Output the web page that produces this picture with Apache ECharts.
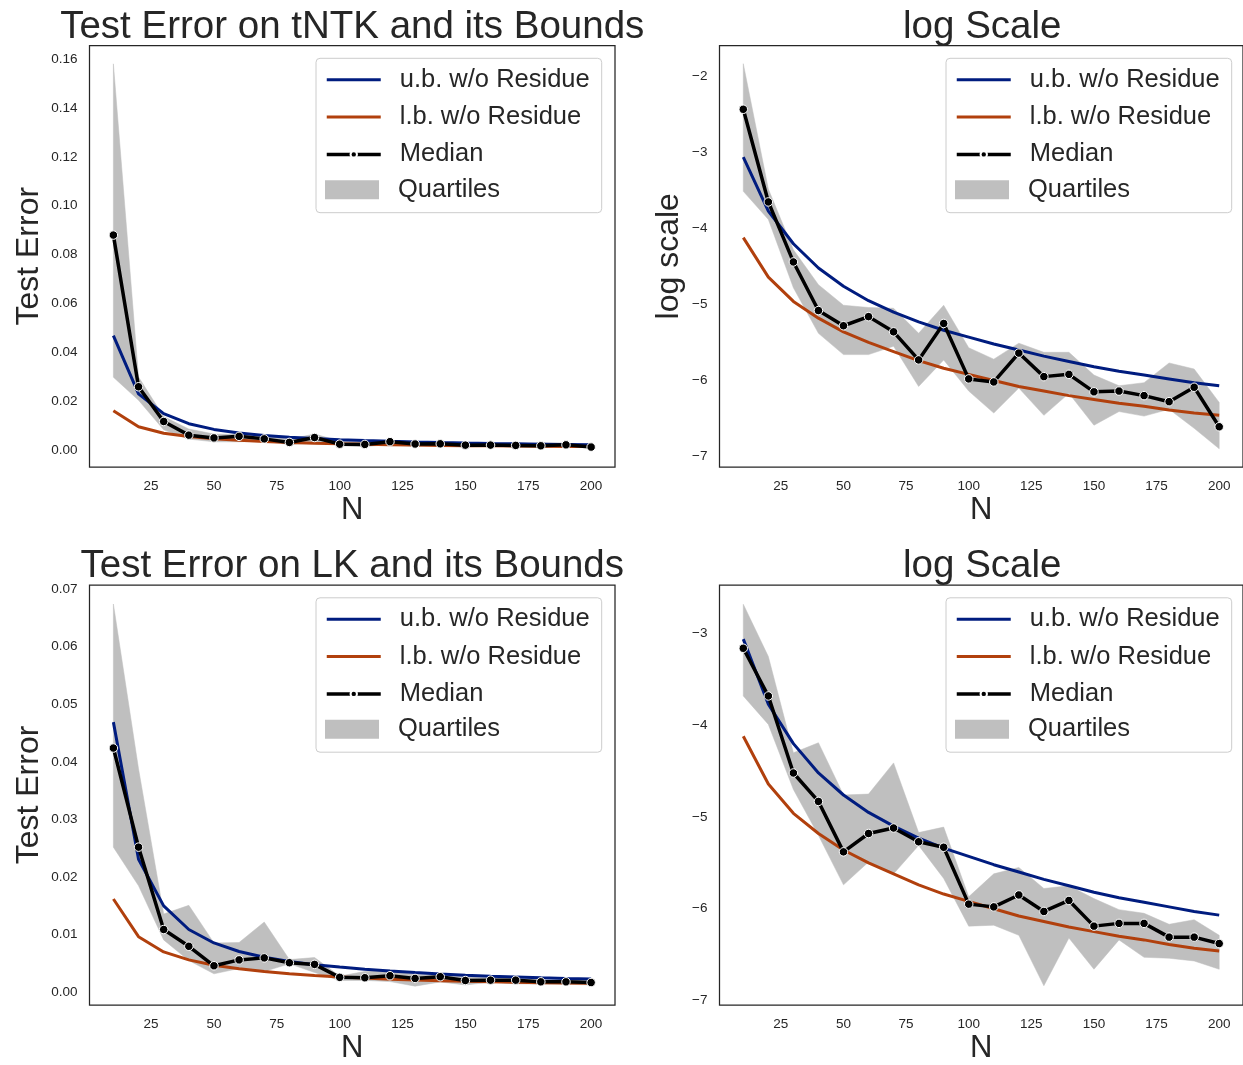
<!DOCTYPE html>
<html>
<head>
<meta charset="utf-8">
<script src="https://cdn.jsdelivr.net/npm/echarts@6/dist/echarts.min.js"></script>
<style>
html, body { margin: 0; padding: 0; background: #fff; }
#main { width: 1243px; height: 1065px; }
</style>
</head>
<body>
<div id="main"></div>
<script>
// x 轴：样本数 N
var nList = [10, 20, 30, 40, 50, 60, 70, 80, 90, 100, 110, 120, 130, 140, 150, 160, 170, 180, 190, 200];

// 上下界（两种核相同）
var ubLin = [0.0469, 0.0231, 0.0150, 0.0109, 0.00857, 0.00708, 0.00610, 0.00535, 0.00480, 0.00438, 0.00401, 0.00370, 0.00342, 0.00318, 0.00297, 0.00279, 0.00266, 0.00253, 0.00241, 0.00231];
var lbLin = [0.0162, 0.00966, 0.00701, 0.00563, 0.00470, 0.00409, 0.00362, 0.00321, 0.00291, 0.00268, 0.00248, 0.00229, 0.00215, 0.00203, 0.00193, 0.00184, 0.00176, 0.00168, 0.00161, 0.00156];
var ubLog = [-3.06, -3.77, -4.20, -4.52, -4.76, -4.95, -5.10, -5.23, -5.34, -5.43, -5.52, -5.60, -5.68, -5.75, -5.82, -5.88, -5.93, -5.98, -6.03, -6.07];
var lbLog = [-4.12, -4.64, -4.96, -5.18, -5.36, -5.50, -5.62, -5.74, -5.84, -5.92, -6.00, -6.08, -6.14, -6.20, -6.25, -6.30, -6.34, -6.39, -6.43, -6.46];

// tNTK：中位数与四分位
var tntkMed = [0.0880, 0.0260, 0.0118, 0.00622, 0.00509, 0.00574, 0.00470, 0.00325, 0.00525, 0.00253, 0.00243, 0.00355, 0.00260, 0.00268, 0.00213, 0.00215, 0.00203, 0.00187, 0.00226, 0.00135];
var tntkQ3 = [0.158, 0.0300, 0.0138, 0.00873, 0.00667, 0.00647, 0.00641, 0.00461, 0.00667, 0.00381, 0.00328, 0.00405, 0.00359, 0.00359, 0.00266, 0.00231, 0.00241, 0.00312, 0.00288, 0.00186];
var tntkQ1 = [0.0299, 0.0205, 0.00839, 0.00461, 0.00348, 0.00348, 0.00389, 0.00229, 0.00325, 0.00215, 0.00161, 0.00224, 0.00156, 0.00209, 0.00137, 0.00165, 0.00155, 0.00169, 0.00132, 0.00101];
var tntkMedLog = [-2.43, -3.65, -4.44, -5.08, -5.28, -5.16, -5.36, -5.73, -5.25, -5.98, -6.02, -5.64, -5.95, -5.92, -6.15, -6.14, -6.20, -6.28, -6.09, -6.61];
var tntkQ3Log = [-1.83, -3.48, -4.28, -4.74, -5.01, -5.04, -5.05, -5.38, -5.01, -5.57, -5.72, -5.51, -5.63, -5.63, -5.93, -6.07, -6.03, -5.77, -5.85, -6.29];
var tntkQ1Log = [-3.51, -3.88, -4.78, -5.38, -5.66, -5.66, -5.55, -6.08, -5.73, -6.14, -6.43, -6.10, -6.46, -6.17, -6.59, -6.41, -6.47, -6.38, -6.63, -6.90];

// LK：中位数与四分位
var lkMed = [0.0424, 0.0252, 0.0109, 0.00799, 0.00461, 0.00563, 0.00598, 0.00514, 0.00485, 0.00260, 0.00253, 0.00288, 0.00241, 0.00271, 0.00205, 0.00211, 0.00211, 0.00182, 0.00182, 0.00170];
var lkQ3 = [0.0674, 0.0388, 0.0136, 0.0151, 0.00857, 0.00865, 0.0122, 0.00568, 0.00604, 0.00282, 0.00362, 0.00389, 0.00309, 0.00318, 0.00277, 0.00245, 0.00236, 0.00209, 0.00220, 0.00186];
var lkQ1 = [0.0252, 0.0185, 0.00910, 0.00552, 0.00321, 0.00413, 0.00362, 0.00494, 0.00345, 0.00205, 0.00207, 0.00186, 0.00107, 0.00180, 0.00128, 0.00176, 0.00146, 0.00144, 0.00140, 0.00128];
var lkMedLog = [-3.16, -3.68, -4.52, -4.83, -5.38, -5.18, -5.12, -5.27, -5.33, -5.95, -5.98, -5.85, -6.03, -5.91, -6.19, -6.16, -6.16, -6.31, -6.31, -6.38];
var lkQ3Log = [-2.68, -3.25, -4.30, -4.19, -4.76, -4.75, -4.41, -5.17, -5.11, -5.87, -5.62, -5.55, -5.78, -5.75, -5.89, -6.01, -6.05, -6.17, -6.12, -6.29];
var lkQ1Log = [-3.68, -3.99, -4.70, -5.20, -5.74, -5.49, -5.62, -5.31, -5.67, -6.19, -6.18, -6.29, -6.84, -6.32, -6.66, -6.34, -6.53, -6.54, -6.57, -6.66];

// 刻度标签
var xTicks = [25, 50, 75, 100, 125, 150, 175, 200];
var linTicksTop = [0, 0.02, 0.04, 0.06, 0.08, 0.10, 0.12, 0.14, 0.16];
var logTicksTop = [-7, -6, -5, -4, -3, -2];
var linTicksBot = [0, 0.01, 0.02, 0.03, 0.04, 0.05, 0.06, 0.07];
var logTicksBot = [-7, -6, -5, -4, -3];

var UB = 'u.b. w/o Residue', LB = 'l.b. w/o Residue', MED = 'Median', QU = 'Quartiles';
var FONT = 'Liberation Sans, Arial, sans-serif';
var TXT = '#262626';
var BAND = '#bfbfbf';

var chart = echarts.init(document.getElementById('main'));

function pairs(ys) {
    return nList.map(function (n, i) { return [n, ys[i]]; });
}
function triples(lo, hi) {
    return nList.map(function (n, i) { return [n, lo[i], hi[i]]; });
}

// 四分位带：整条多边形，坐标都走 api.coord
function renderBand(params, api) {
    if (params.dataIndexInside !== 0) return null;
    var len = params.dataInsideLength;
    var pts = [];
    for (var k = 0; k < len; k++) pts.push(api.coord([api.value(0, k), api.value(2, k)]));
    for (var m = len - 1; m >= 0; m--) pts.push(api.coord([api.value(0, m), api.value(1, m)]));
    return {type: 'polygon', shape: {points: pts}, style: {fill: BAND, stroke: BAND, lineWidth: 0.5}};
}

var panels = [
    {left: 89.5, top: 45.5, height: 421.5, title: 'Test Error on tNTK and its Bounds', yName: 'Test Error', yGap: 44,
     min: -0.0068, max: 0.1655, ticks: linTicksTop, log: false, ub: ubLin, lb: lbLin, med: tntkMed, q1: tntkQ1, q3: tntkQ3},
    {left: 719.5, top: 45.5, height: 421.5, title: 'log Scale', yName: 'log scale', yGap: 34,
     min: -7.14, max: -1.59, ticks: logTicksTop, log: true, ub: ubLog, lb: lbLog, med: tntkMedLog, q1: tntkQ1Log, q3: tntkQ3Log},
    {left: 89.5, top: 585, height: 421.7, title: 'Test Error on LK and its Bounds', yName: 'Test Error', yGap: 44,
     min: -0.0022, max: 0.0707, ticks: linTicksBot, log: false, ub: ubLin, lb: lbLin, med: lkMed, q1: lkQ1, q3: lkQ3},
    {left: 719.5, top: 585, height: 421.7, title: 'log Scale', yName: '', yGap: 34,
     min: -7.05, max: -2.47, ticks: logTicksBot, log: true, ub: ubLog, lb: lbLog, med: lkMedLog, q1: lkQ1Log, q3: lkQ3Log}
];

var option = {
    animation: false,
    backgroundColor: '#fff',
    title: [], grid: [], xAxis: [], yAxis: [], legend: [], series: [], graphic: []
};

panels.forEach(function (p, i) {
    var W = 525.5;
    option.grid.push({
        left: p.left, top: p.top, width: W, height: p.height,
        show: true, borderColor: TXT, borderWidth: 1.25, backgroundColor: 'transparent'
    });
    option.title.push({
        text: p.title, left: p.left + W / 2, top: p.top - 38, textAlign: 'center', padding: 0,
        textStyle: {fontSize: 38.5, fontWeight: 'normal', color: TXT, fontFamily: FONT}
    });
    option.xAxis.push({
        type: 'value', gridIndex: i, min: 0.5, max: 209.5,
        name: 'N', nameLocation: 'middle', nameGap: 28,
        nameTextStyle: {fontSize: 31, color: TXT, fontFamily: FONT},
        axisLine: {show: false}, axisTick: {show: false}, splitLine: {show: false},
        axisLabel: {customValues: xTicks, color: TXT, fontSize: 13.5, fontFamily: FONT, margin: 12}
    });
    option.yAxis.push({
        type: 'value', gridIndex: i, min: p.min, max: p.max,
        name: p.yName, nameLocation: 'middle', nameGap: p.yGap,
        nameTextStyle: {fontSize: 32, color: TXT, fontFamily: FONT},
        axisLine: {show: false}, axisTick: {show: false}, splitLine: {show: false},
        axisLabel: {
            customValues: p.ticks, color: TXT, fontSize: 13.5, fontFamily: FONT, margin: 12,
            formatter: function (v) {
                return p.log ? (v < 0 ? '\u2212' + Math.abs(v) : String(v)) : v.toFixed(2);
            }
        }
    });

    option.series.push({
        type: 'custom', name: QU, xAxisIndex: i, yAxisIndex: i, z: 1, silent: true,
        itemStyle: {color: BAND}, encode: {x: 0, y: [1, 2]},
        renderItem: renderBand, data: triples(p.q1, p.q3)
    });
    option.series.push({
        type: 'line', name: UB, xAxisIndex: i, yAxisIndex: i, symbol: 'none', z: 2,
        color: '#001c7f', lineStyle: {width: 3, color: '#001c7f'}, data: pairs(p.ub)
    });
    option.series.push({
        type: 'line', name: LB, xAxisIndex: i, yAxisIndex: i, symbol: 'none', z: 2,
        color: '#b1400d', lineStyle: {width: 3, color: '#b1400d'}, data: pairs(p.lb)
    });
    option.series.push({
        type: 'line', name: MED, xAxisIndex: i, yAxisIndex: i, z: 3,
        symbol: 'circle', symbolSize: 8.5, color: '#000',
        itemStyle: {color: '#000', borderColor: '#fff', borderWidth: 1},
        lineStyle: {width: 3.5, color: '#000'}, data: pairs(p.med)
    });

    // 图例：外框 + 线条三项 + 四分位一项
    var lx = p.left + 226.5, ly = p.top + 12.8;
    option.graphic.push({
        type: 'rect', z: 3, silent: true,
        shape: {x: lx, y: ly, width: 285.7, height: 154.4, r: 4},
        style: {fill: 'rgba(255,255,255,0.8)', stroke: '#cccccc', lineWidth: 1}
    });
    var legendText = {fontSize: 25.5, color: TXT, fontFamily: FONT, lineHeight: 25, padding: [0, 0, 0, 14]};
    option.legend.push({
        left: lx + 9, top: p.top + 21.3, orient: 'vertical', padding: 0, itemGap: 11.3,
        itemWidth: 54, itemHeight: 8, selectedMode: false, textStyle: legendText,
        data: [
            {name: UB, itemStyle: {opacity: 0}, lineStyle: {width: 3}},
            {name: LB, itemStyle: {opacity: 0}, lineStyle: {width: 3}},
            {name: MED, lineStyle: {width: 3.5}}
        ]
    });
    option.legend.push({
        left: lx + 9, top: p.top + 131.3, orient: 'vertical', padding: 0,
        itemWidth: 54, itemHeight: 19, selectedMode: false, textStyle: legendText,
        data: [{name: QU, icon: 'rect', itemStyle: {color: BAND}}]
    });
});

chart.setOption(option);
</script>
</body>
</html>
